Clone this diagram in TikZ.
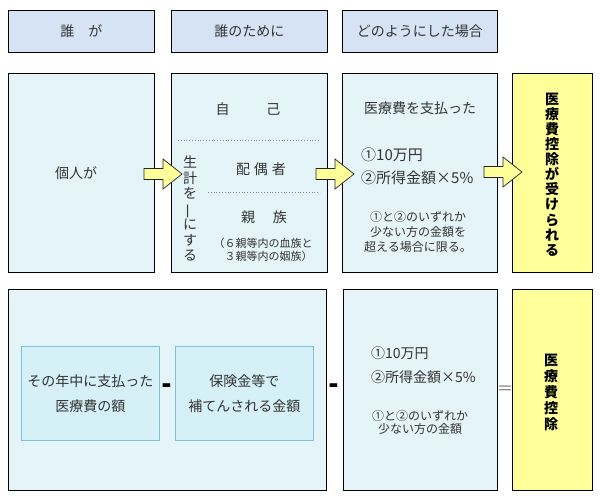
\documentclass[tikz,border=0pt]{standalone}
\usepackage{fontspec}
\usepackage{graphicx}
\setmainfont{Noto Sans CJK JP}
\definecolor{hdrblue}{HTML}{D5E3F5}
\definecolor{panelcyan}{HTML}{E4F4F9}
\definecolor{innercyan}{HTML}{D5F0F7}
\definecolor{innerline}{HTML}{7CC3D4}
\definecolor{goalyellow}{HTML}{FFFF99}
\definecolor{txtgray}{HTML}{333333}
\newcommand{\fatarrow}[1]{\draw[arrowshape,shift={#1}] (0,-5.5) -- (19,-5.5) -- (19,-15) -- (38,0) -- (19,15) -- (19,5.5) -- (0,5.5) -- cycle;}
\tikzset{
  hdrbox/.style={draw=black, line width=0.9pt, fill=hdrblue, anchor=north west, minimum height=42pt, inner sep=0pt, text=txtgray, font=\fontsize{14}{16}\selectfont},
  panel/.style={draw=black, line width=0.9pt, fill=panelcyan, anchor=north west, inner sep=0pt},
  innerbox/.style={draw=innerline, line width=0.8pt, fill=innercyan, anchor=north west, inner sep=0pt, minimum width=138pt, minimum height=94pt},
  goal/.style={draw=black, line width=0.9pt, fill=goalyellow, anchor=north west, inner sep=0pt, minimum width=80pt},
  arrowshape/.style={draw=black!85, line width=0.7pt, fill=goalyellow, line join=miter},
  sepline/.style={dotted, line width=0.8pt, black!45},
  lbl/.style={inner sep=0pt, text=txtgray, font=\fontsize{14}{25}\selectfont, align=center},
  biglbl/.style={inner sep=0pt, text=txtgray, font=\fontsize{15}{23}\selectfont, anchor=west},
  smalllbl/.style={inner sep=0pt, text=txtgray, font=\fontsize{12}{15}\selectfont, align=center},
  tinylbl/.style={inner sep=0pt, text=txtgray, font=\fontsize{11}{13}\selectfont, align=left},
  vlbl/.style={inner sep=0pt, text=txtgray, align=center},
  goallbl/.style={inner sep=0pt, text=black, align=center},
  opsign/.style={inner sep=0pt, font=\fontsize{12}{12}\selectfont\bfseries}
}
\begin{document}
\begin{tikzpicture}[x=1pt,y=-1pt]
\useasboundingbox[fill=white] (0,0) rectangle (600,500);
% headers
\node[hdrbox, minimum width=146pt] (hwho) at (8,10) {誰　が};
\node[hdrbox, minimum width=156pt] (hwhom) at (171,10) {誰のために};
\node[hdrbox, minimum width=155pt] (hcase) at (342,10) {どのようにした場合};

% upper row
\node[panel, minimum width=146pt, minimum height=199pt] (who) at (8,73) {};
\node[panel, minimum width=156pt, minimum height=199pt] (whom) at (171,73) {};
\node[panel, minimum width=155pt, minimum height=199pt] (cond) at (342,73) {};
\node[goal, minimum height=199pt] (get) at (512,73) {};

\node[lbl] (indiv) at (76,173) {個人が};

\node[lbl] (self) at (248,109) {自\hspace{37pt}己};
\draw[sepline] (178,140) -- (320,140);
\node[vlbl, font=\fontsize{14}{15.5}\selectfont] (samelife) at (190,208.5)
  {生\\計\\を\\\rotatebox[origin=c]{90}{一}\\に\\す\\る};
\node[lbl] (spouse) at (261,169) {配\hspace{4pt}偶\hspace{4pt}者};
\draw[sepline] (208,192) -- (320,192);
\node[lbl] (kin) at (264,217) {親\hspace{18pt}族};
\node[tinylbl] (kinnote) at (263,250) {（６親等内の血族と\\　３親等内の姻族）};

\node[lbl] (paid) at (420,108) {医療費を支払った};
\node[biglbl] (cap1) at (361,155) {①10万円};
\node[biglbl] (cap2) at (361,178) {②所得金額×5\%};
\node[smalllbl] (capnote) at (418,232) {①と②のいずれか\\少ない方の金額を\\超える場合に限る。};

\node[goallbl, font=\fontsize{14}{15.1}\selectfont\bfseries] (getlbl) at (552,174.5)
  {医\\療\\費\\控\\除\\が\\受\\け\\ら\\れ\\る};

\fatarrow{(144,174)}
\fatarrow{(316,174)}
\fatarrow{(484,172)}

% lower row
\node[panel, minimum width=318pt, minimum height=201pt] (calc) at (8,289) {};
\node[innerbox] (yearpaid) at (21,346) {};
\node[innerbox] (insur) at (175,346) {};
\node[lbl] at (yearpaid.center) {その年中に支払った\\医療費の額};
\node[lbl] at (insur.center) {保険金等で\\補てんされる金額};
\node[opsign] (minus1) at (167,391) {\scalebox{0.9}[2.6]{－}};
\node[opsign] (minus2) at (334,391) {\scalebox{0.9}[2.6]{－}};

\node[panel, minimum width=154pt, minimum height=201pt] (lim) at (343,289) {};
\node[biglbl, font=\fontsize{14}{16}\selectfont] (lim1) at (371,353) {①10万円};
\node[biglbl, font=\fontsize{14}{16}\selectfont] (lim2) at (371,377) {②所得金額×5\%};
\node[smalllbl, font=\fontsize{12}{13.5}\selectfont] (limnote) at (420,422.5) {①と②のいずれか\\少ない方の金額};

\node[inner sep=0pt, text=black!55, font=\fontsize{16}{16}\selectfont] (equals) at (505,390.5) {＝};

\node[goal, minimum height=201pt] (deduct) at (512,289) {};
\node[goallbl, font=\fontsize{14}{16}\selectfont\bfseries] (deductlbl) at (551,392.5)
  {医\\療\\費\\控\\除};
\end{tikzpicture}
\end{document}
